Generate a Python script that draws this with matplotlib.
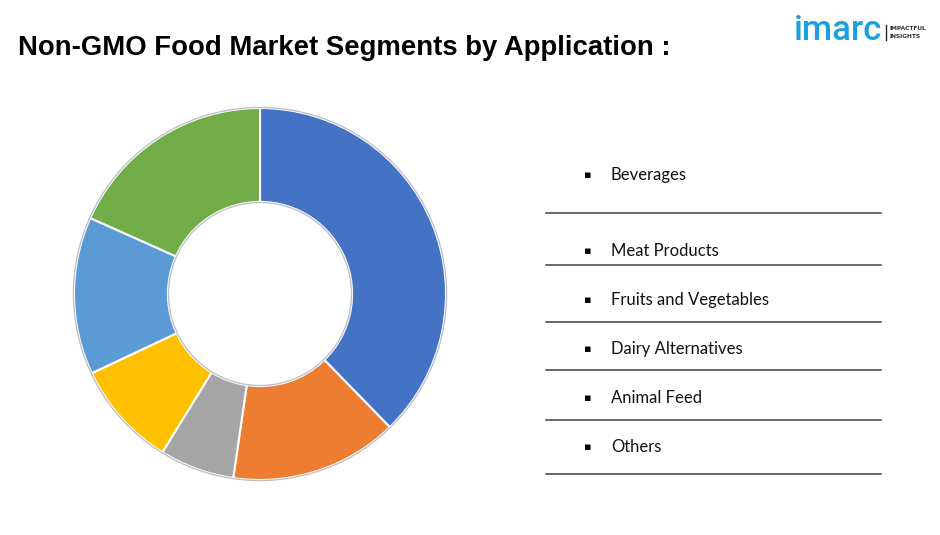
import matplotlib.pyplot as plt
from matplotlib.patches import Circle

# Segment shares (clockwise from 12 o'clock)
segments = ["Beverages", "Meat Products", "Fruits and Vegetables",
            "Dairy Alternatives", "Animal Feed", "Others"]
shares = [37.7, 14.6, 6.5, 9.2, 13.7, 18.3]
colors = ["#4472C4", "#ED7D31", "#A5A5A5", "#FFC000", "#5B9BD5", "#70AD47"]

title = "Non-GMO Food Market Segments by Application :"

W, H = 940, 535
fig = plt.figure(figsize=(W / 100, H / 100), dpi=100)
fig.patch.set_facecolor("white")

# overlay in pixel coordinates for text and separator lines
ov = fig.add_axes([0, 0, 1, 1])
ov.set_xlim(0, W)
ov.set_ylim(H, 0)
ov.axis("off")

# donut: centre (260, 294), outer radius ~186 px
cx, cy, r = 260, 294, 186
lim = 1.02
size = 2 * lim * r
hole = 0.495
ax = fig.add_axes([(cx - size / 2) / W, (H - cy - size / 2) / H, size / W, size / H])
ax.pie(shares, colors=colors, startangle=90, counterclock=False,
       radius=1, wedgeprops=dict(width=1 - hole, edgecolor="white", linewidth=1.5))
# faint shadow-like rims
for rr in (1.003, hole - 0.003):
    ax.add_patch(Circle((0, 0), rr, fill=False, edgecolor="#6f7a8c", lw=1.0, alpha=0.45))
ax.set_xlim(-lim, lim)
ax.set_ylim(-lim, lim)
ax.set_aspect("equal")
ax.axis("off")

# title
ov.text(18, 55, title, fontsize=19.8, fontweight="bold", family="Liberation Sans",
        color="black", va="baseline", ha="left")

# logo
ov.text(794, 40, "imarc", fontsize=25, fontweight="medium", family="Roboto",
        color="#1BA1E2", va="baseline", ha="left")
ov.plot([886, 886], [25, 40], color="#222222", lw=1)
ov.text(890, 29, "IMPACTFUL", fontsize=4.2, fontweight="bold", color="#333333",
        va="center", ha="left")
ov.text(890, 36, "INSIGHTS", fontsize=4.2, fontweight="bold", color="#333333",
        va="center", ha="left")

# legend list with separator lines
text_y = [175, 251, 300, 349, 398, 447]
line_y = [213, 265, 322, 370, 420, 474]
for name, ty in zip(segments, text_y):
    ov.text(588, ty, "\u25aa", fontsize=8, color="black", va="center", ha="center",
            family="DejaVu Sans")
    ov.text(611, ty, name, fontsize=12, family="Lato", color="#111111",
            va="center", ha="left")
for ly in line_y:
    ov.plot([546, 881], [ly, ly], color="#404040", lw=1.1)

fig.savefig("out.png", dpi=100, facecolor="white")
